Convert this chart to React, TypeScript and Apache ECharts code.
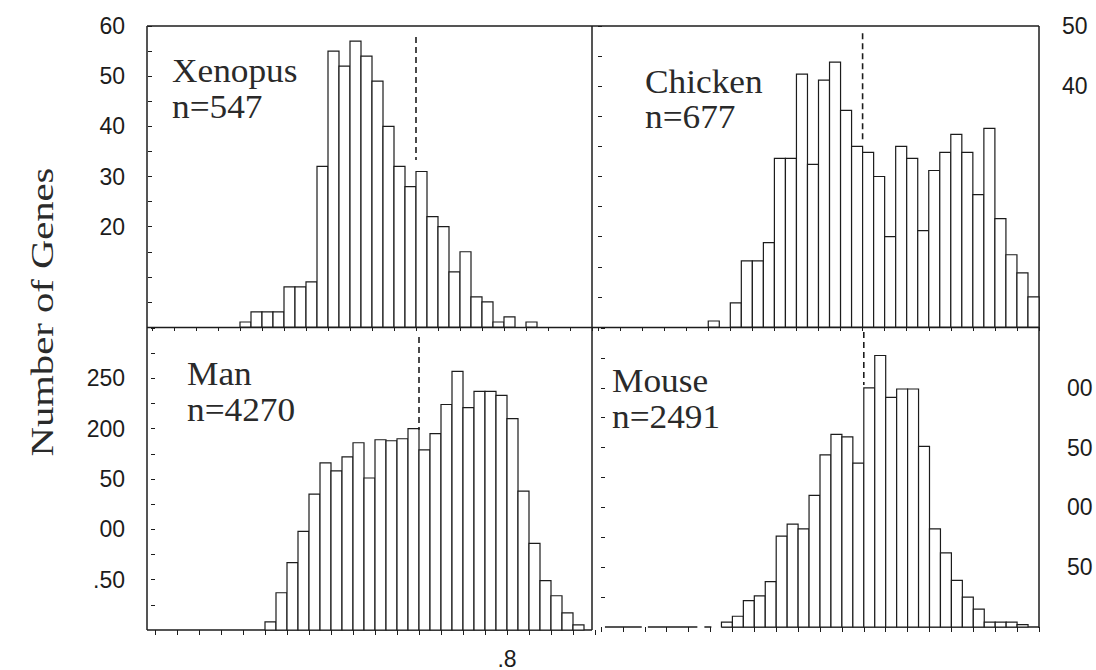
import React, { useEffect, useRef } from "react";
import * as echarts from "echarts";

// Histogram bins (left edges), width 0.025
const bins = [
  0, 0.025, 0.05, 0.075, 0.1, 0.125, 0.15, 0.175, 0.2, 0.225,
  0.25, 0.275, 0.3, 0.325, 0.35, 0.375, 0.4, 0.425, 0.45, 0.475,
  0.5, 0.525, 0.55, 0.575, 0.6, 0.625, 0.65, 0.675, 0.7, 0.725,
  0.75, 0.775, 0.8, 0.825, 0.85, 0.875, 0.9, 0.925, 0.95, 0.975,
];
const binWidth = 0.025;

const xenopusCounts = [
  0, 0, 0, 0, 0, 0, 0, 0, 1, 3,
  3, 3, 8, 8, 9, 32, 55, 52, 57, 54,
  49, 40, 32, 28, 31, 22, 20, 11, 15, 6,
  5, 1, 2, 0, 1, 0, 0, 0, 0, 0,
];
const chickenCounts = [
  0, 0, 0, 0, 0, 0, 0, 0, 0, 0,
  1, 0, 4, 11, 11, 14, 28, 28, 42, 27,
  41, 44, 36, 30, 29, 25, 15, 30, 28, 16,
  26, 29, 32, 29, 22, 33, 18, 12, 9, 5,
];
const manCounts = [
  0, 0, 0, 0, 0, 0, 0, 0, 0, 0,
  8, 37, 67, 98, 135, 166, 158, 172, 186, 151,
  189, 188, 190, 200, 179, 195, 224, 257, 221, 237,
  237, 233, 210, 138, 86, 49, 34, 17, 5, 0,
];
const mouseCounts = [
  0, 0, 0, 0, 0, 0, 0, 0, 0, 0,
  0, 4, 9, 22, 26, 38, 76, 86, 82, 110,
  144, 161, 159, 137, 200, 227, 192, 199, 199, 151,
  82, 62, 39, 25, 15, 4, 4, 4, 2, 0,
];

const panelNames = ["Xenopus", "Chicken", "Man", "Mouse"];
const panelN = ["n=547", "n=677", "n=4270", "n=2491"];
const yMax = [60, 50, 300, 250];
const yInterval = [5, 5, 25, 25];

// Visible tick labels (as printed in the figure)
const yTickValues = [
  [20, 30, 40, 50, 60],
  [40, 50],
  [50, 100, 150, 200, 250],
  [50, 100, 150, 200],
];
const yTickTexts = [
  ["20", "30", "40", "50", "60"],
  ["40", "50"],
  [".50", "00", "50", "200", "250"],
  ["50", "00", "50", "00"],
];
const xTickValues = [0.8];
const xTickTexts = [".8"];

// dashed reference line
const refLineX = 0.6;
const refLineRanges = [
  [57.8, 33.3],
  [48.8, 30.7],
  [291, 199],
  [246.7, 202.3],
];

// broken baseline of the Mouse panel (scan artefact), x ranges in axis units
const mouseBaseline = [
  [-0.025, -0.007],
  [0.009, 0.093],
  [0.107, 0.22],
  [0.236, 0.252],
  [0.275, 1.0],
];

const INK = "#1c1c1c";
const SERIF = '"Liberation Serif", "Times New Roman", serif';
const SANS = '"Liberation Sans", Arial, sans-serif';

function fmt(values: number[], texts: string[]) {
  return (v: number) => {
    const i = values.findIndex((t) => Math.abs(t - v) < 1e-6);
    return i >= 0 ? texts[i] : "";
  };
}

export default function App() {
  const ref = useRef<HTMLDivElement>(null);

  useEffect(() => {
    if (!ref.current) return;
    const chart = echarts.init(ref.current, undefined, { renderer: "svg" });

    const grids = [
      { left: 152, top: 26, width: 440, height: 301 },
      { left: 598, top: 26, width: 441, height: 301 },
      { left: 155, top: 328, width: 440, height: 302 },
      { left: 601, top: 328, width: 438, height: 299 },
    ];
    const frameLeft = 147;
    const frameRight = 1039;

    const countsList = [xenopusCounts, chickenCounts, manCounts, mouseCounts];

    const xAxes = grids.map((g, i) => ({
      type: "value",
      gridIndex: i,
      min: 0,
      max: 1,
      interval: 0.05,
      position: i < 2 ? "top" : "bottom",
      axisLine: { show: false },
      splitLine: { show: false },
      axisTick: {
        show: true,
        inside: i < 2,
        length: i < 2 ? 4 : 5,
        lineStyle: { color: INK, width: 1 },
      },
      axisLabel: {
        show: i === 2,
        formatter: fmt(xTickValues, xTickTexts),
        fontFamily: SANS,
        fontSize: 23,
        color: INK,
        margin: 17,
      },
    }));

    const yAxes = grids.map((g, i) => {
      const isLeft = i === 0 || i === 2;
      const offset = isLeft ? g.left - frameLeft : frameRight - (g.left + g.width);
      return {
        type: "value",
        gridIndex: i,
        min: 0,
        max: yMax[i],
        interval: yInterval[i],
        position: isLeft ? "left" : "right",
        offset,
        axisLine: { show: false },
        splitLine: { show: false },
        axisTick: { show: true, length: 4, lineStyle: { color: INK, width: 1 } },
        axisLabel: {
          show: true,
          showMaxLabel: true,
          showMinLabel: false,
          formatter: fmt(yTickValues[i], yTickTexts[i]),
          fontFamily: SANS,
          fontSize: 23,
          color: INK,
          margin: isLeft ? 22 : i === 1 ? 23 : 28,
        },
      };
    });

    const series: any[] = [];
    countsList.forEach((counts, i) => {
      series.push({
        type: "custom",
        xAxisIndex: i,
        yAxisIndex: i,
        data: bins.map((b, k) => [b, counts[k]]),
        encode: { x: 0, y: 1 },
        renderItem: (params: any, api: any) => {
          const x0 = api.value(0);
          const v = api.value(1);
          if (!v) return null;
          const p0 = api.coord([x0, v]);
          const p1 = api.coord([x0 + binWidth, 0]);
          return {
            type: "rect",
            shape: { x: p0[0], y: p0[1], width: p1[0] - p0[0], height: p1[1] - p0[1] },
            style: { fill: "#ffffff", stroke: INK, lineWidth: 1.2 },
          };
        },
        z: 3,
      });
      series.push({
        type: "line",
        xAxisIndex: i,
        yAxisIndex: i,
        data: [
          [refLineX, refLineRanges[i][0]],
          [refLineX, refLineRanges[i][1]],
        ],
        symbol: "none",
        lineStyle: { color: INK, width: 1.6, type: [6, 4] },
        z: 4,
      });
    });
    mouseBaseline.forEach((seg) => {
      series.push({
        type: "line",
        xAxisIndex: 3,
        yAxisIndex: 3,
        clip: false,
        data: [
          [seg[0], 0],
          [seg[1], 0],
        ],
        symbol: "none",
        lineStyle: { color: INK, width: 1.5 },
        z: 2,
      });
    });

    const frameStyle = { stroke: INK, lineWidth: 1.5 };
    const graphic: any[] = [
      { type: "line", shape: { x1: frameLeft, y1: 26, x2: frameRight, y2: 26 }, style: frameStyle },
      { type: "line", shape: { x1: frameLeft, y1: 327.5, x2: frameRight, y2: 327.5 }, style: frameStyle },
      { type: "line", shape: { x1: frameLeft, y1: 630, x2: 592, y2: 630 }, style: frameStyle },
      { type: "line", shape: { x1: frameLeft, y1: 26, x2: frameLeft, y2: 630 }, style: frameStyle },
      { type: "line", shape: { x1: 592, y1: 26, x2: 592, y2: 630 }, style: frameStyle },
      { type: "line", shape: { x1: frameRight, y1: 26, x2: frameRight, y2: 628 }, style: frameStyle },
    ];

    const labelPos = [
      [172, 82.3, 118.3],
      [645, 92.7, 128.3],
      [187, 385, 421],
      [612, 391.7, 428.3],
    ];
    const fs = 33;
    const central = 0.3375 * fs;
    labelPos.forEach((p, i) => {
      [panelNames[i], panelN[i]].forEach((t, j) => {
        graphic.push({
          type: "text",
          x: p[0],
          y: p[1 + j] - central,
          scaleX: 1.07,
          style: {
            text: t,
            font: `${fs}px ${SERIF}`,
            fill: "#2a2a2a",
            align: "left",
            verticalAlign: "middle",
            textAlign: "left",
            textVerticalAlign: "middle",
          },
          z: 10,
        });
      });
    });

    graphic.push({
      type: "text",
      x: 42,
      y: 312,
      rotation: Math.PI / 2,
      scaleX: 1.27,
      style: {
        text: "Number of Genes",
        font: `32px ${SERIF}`,
        fill: "#2a2a2a",
        align: "center",
        verticalAlign: "middle",
        textAlign: "center",
        textVerticalAlign: "middle",
      },
    });

    chart.setOption({
      animation: false,
      backgroundColor: "#ffffff",
      grid: grids.map((g) => ({ ...g, show: false, containLabel: false })),
      xAxis: xAxes,
      yAxis: yAxes,
      series,
      graphic,
    });

    return () => chart.dispose();
  }, []);

  return (
    <div
      ref={ref}
      style={{ position: "absolute", left: 0, top: 0, width: 1096, height: 670, background: "#fff" }}
    />
  );
}
